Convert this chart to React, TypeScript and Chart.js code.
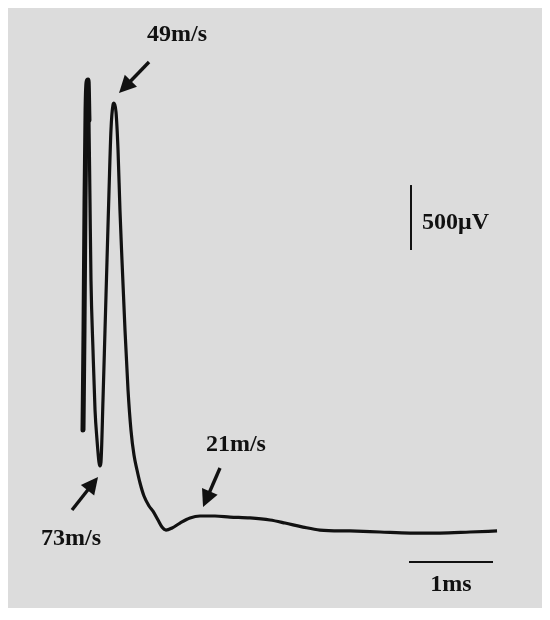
import React, { useEffect, useRef } from "react";
import { Chart, registerables } from "chart.js";

Chart.register(...registerables);

// Compound action potential trace: time (ms) vs amplitude (µV)
const timeMs = [
  0.0, 0.012, 0.024, 0.036, 0.048, 0.06, 0.071, 0.083, 0.095, 0.119, 0.143, 0.167, 0.19, 0.202, 0.214,
  0.238, 0.262, 0.286, 0.31, 0.333, 0.357, 0.369, 0.393, 0.417, 0.44, 0.464, 0.5, 0.536, 0.571,
  0.607, 0.643, 0.679, 0.726, 0.786, 0.833, 0.893, 0.94, 0.988, 1.06, 1.155, 1.274, 1.393, 1.571,
  1.75, 1.988, 2.226, 2.405, 2.619, 2.821, 3.179, 3.536, 3.893, 4.25, 4.607, 4.929,
];
const voltageUV = [
  784, 1553, 2553, 3245, 3460, 3476, 3168, 2553, 1938, 1400, 940, 707, 538, 508, 538,
  1015, 1553, 2092, 2630, 3092, 3284, 3299, 3230, 2938, 2476, 2092, 1553, 1092, 784,
  592, 477, 377, 277, 200, 161, 92, 38, 15, 31, 69, 108, 123, 123,
  115, 108, 92, 69, 38, 15, 8, 0, -8, -8, 0, 8,
];
// the rising edge of the first (fastest) spike is drawn with a heavier stroke
const firstSpikeEnd = 7;

// Velocity annotations
const velocityLabels = ["49m/s", "73m/s", "21m/s"];
const labelTime = [1.119, -0.143, 1.821];
const labelVolt = [3823, -54, 669];
const arrowTailTime = [0.786, -0.131, 1.631];
const arrowTailVolt = [3615, 169, 492];
const arrowTipTime = [0.429, 0.179, 1.429];
const arrowTipVolt = [3377, 423, 192];

// Scale bars
const voltBarTime = 3.905;
const voltBarRange = [2169, 2669];
const voltBarLabel = "500\u03bcV";
const voltLabelPos = [4.036, 2377];
const timeBarRange = [3.881, 4.881];
const timeBarVolt = -231;
const timeBarLabel = "1ms";
const timeLabelPos = [4.381, -408];

const INK = "#111111";
const FONT = 'bold 24px "Liberation Serif", "Times New Roman", serif';

const annotations = {
  id: "annotations",
  afterDatasetsDraw(chart: any) {
    const { ctx } = chart;
    const x = chart.scales.x;
    const y = chart.scales.y;
    ctx.save();
    ctx.strokeStyle = INK;
    ctx.fillStyle = INK;

    // arrows
    for (let i = 0; i < velocityLabels.length; i++) {
      const tx = x.getPixelForValue(arrowTailTime[i]);
      const ty = y.getPixelForValue(arrowTailVolt[i]);
      const hx = x.getPixelForValue(arrowTipTime[i]);
      const hy = y.getPixelForValue(arrowTipVolt[i]);
      const ang = Math.atan2(hy - ty, hx - tx);
      const headLen = 17;
      const headW = 8.5;
      const bx = hx - headLen * Math.cos(ang);
      const by = hy - headLen * Math.sin(ang);
      ctx.lineWidth = 3.4;
      ctx.lineCap = "butt";
      ctx.beginPath();
      ctx.moveTo(tx, ty);
      ctx.lineTo(bx + 2 * Math.cos(ang), by + 2 * Math.sin(ang));
      ctx.stroke();
      ctx.beginPath();
      ctx.moveTo(hx, hy);
      ctx.lineTo(bx + headW * Math.sin(ang), by - headW * Math.cos(ang));
      ctx.lineTo(bx - headW * Math.sin(ang), by + headW * Math.cos(ang));
      ctx.closePath();
      ctx.fill();
    }

    // labels
    ctx.font = FONT;
    ctx.textAlign = "center";
    ctx.textBaseline = "middle";
    for (let i = 0; i < velocityLabels.length; i++) {
      ctx.fillText(velocityLabels[i], x.getPixelForValue(labelTime[i]), y.getPixelForValue(labelVolt[i]));
    }

    // voltage scale bar
    ctx.lineWidth = 2;
    ctx.beginPath();
    const vx = x.getPixelForValue(voltBarTime);
    ctx.moveTo(vx, y.getPixelForValue(voltBarRange[0]));
    ctx.lineTo(vx, y.getPixelForValue(voltBarRange[1]));
    ctx.stroke();
    ctx.textAlign = "left";
    ctx.fillText(voltBarLabel, x.getPixelForValue(voltLabelPos[0]), y.getPixelForValue(voltLabelPos[1]));

    // time scale bar
    ctx.beginPath();
    const ty2 = y.getPixelForValue(timeBarVolt);
    ctx.moveTo(x.getPixelForValue(timeBarRange[0]), ty2);
    ctx.lineTo(x.getPixelForValue(timeBarRange[1]), ty2);
    ctx.stroke();
    ctx.textAlign = "center";
    ctx.fillText(timeBarLabel, x.getPixelForValue(timeLabelPos[0]), y.getPixelForValue(timeLabelPos[1]));

    ctx.restore();
  },
};

export default function App() {
  const ref = useRef<HTMLCanvasElement | null>(null);

  useEffect(() => {
    if (!ref.current) return;
    const points = timeMs.map((t, i) => ({ x: t, y: voltageUV[i] }));
    const spike = points.slice(0, firstSpikeEnd);
    const chart = new Chart(ref.current, {
      type: "line",
      data: {
        datasets: [
          {
            data: points,
            borderColor: INK,
            borderWidth: 3.2,
            pointRadius: 0,
            cubicInterpolationMode: "monotone",
            fill: false,
          },
          {
            data: spike,
            borderColor: INK,
            borderWidth: 5,
            borderCapStyle: "round",
            borderJoinStyle: "round",
            pointRadius: 0,
            cubicInterpolationMode: "monotone",
            fill: false,
          },
        ],
      },
      options: {
        responsive: false,
        animation: false,
        layout: { padding: 0 },
        plugins: { legend: { display: false }, tooltip: { enabled: false } },
        scales: {
          x: { type: "linear", min: -75 / 84, max: 460 / 84, display: false },
          y: { type: "linear", min: -76 / 0.13, max: 524 / 0.13, display: false },
        },
      },
      plugins: [annotations],
    });
    return () => chart.destroy();
  }, []);

  return (
    <div style={{ width: 535, height: 600, background: "#dcdcdc" }}>
      <canvas ref={ref} width={535} height={600} style={{ display: "block" }} />
    </div>
  );
}
